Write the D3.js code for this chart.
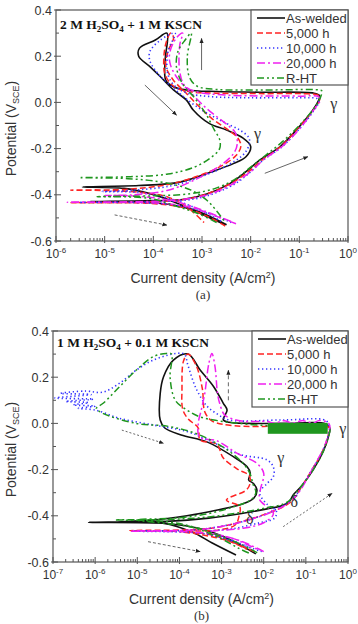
<!DOCTYPE html>
<meta charset="utf-8">
<style>
  body { margin: 0; background: #fff; }
  svg text { font-family: 'Liberation Sans', Arial, sans-serif; fill: #333; }
  .serif { font-family: 'Liberation Serif', 'Times New Roman', serif !important; }
</style>
<svg width="358" height="624"></svg>
<script src="https://cdnjs.cloudflare.com/ajax/libs/d3/7.8.5/d3.min.js"></script>
<script>

// ---- data: [current density (A/cm2), potential (V_SCE)] ----
var seriesNames = ["As-welded", "5,000 h", "10,000 h", "20,000 h", "R-HT"];

// panel (a) 2 M H2SO4 + 1 M KSCN
var aAsWelded = [[3.2e-3,-0.530],[1.5e-3,-0.495],[6e-4,-0.462],[2.2e-4,-0.442],[6e-5,-0.432],[5e-6,-0.429],[6e-5,-0.426],[4e-4,-0.42],[1.3e-3,-0.395],[3.5e-3,-0.355],[8e-3,-0.30],[1.55e-2,-0.249],[4e-2,-0.192],[0.1,-0.105],[0.19,-0.033],[0.25,0.01],[0.26,0.03],[0.2,0.04],[1.5e-2,0.044],[2e-3,0.047],[4.8e-4,0.054],[2.6e-4,0.068],[1.8e-4,0.097],[1.75e-4,0.184],[1.9e-4,0.30],
  [1.1e-4,0.27],[5.2e-5,0.235],[5e-5,0.2],[8.5e-5,0.155],[1.4e-4,0.111],[2.6e-4,0.054],[4.8e-4,0.01],[6.6e-4,-0.033],[1.4e-3,-0.091],[3.2e-3,-0.12],[7e-3,-0.155],[1e-2,-0.19],[8e-3,-0.235],[4.4e-3,-0.265],[1.6e-3,-0.30],[3.5e-4,-0.345],[5e-5,-0.36],[3.5e-6,-0.366],[2.5e-5,-0.372],[8.5e-5,-0.395],[2.6e-4,-0.43],[9e-4,-0.48],[3e-3,-0.53]];
var a5000 = [[3e-3,-0.535],[1.2e-3,-0.49],[3.5e-4,-0.452],[8e-5,-0.437],[2e-6,-0.434],[8e-5,-0.431],[5e-4,-0.418],[1.5e-3,-0.39],[4e-3,-0.35],[9e-3,-0.30],[1.7e-2,-0.25],[4.2e-2,-0.19],[0.1,-0.105],[0.2,-0.03],[0.26,0.01],[0.25,0.03],[0.15,0.037],[1.5e-2,0.038],[2e-3,0.04],[5e-4,0.048],[2.6e-4,0.07],[1.75e-4,0.12],[1.65e-4,0.2],[1.9e-4,0.27],[2.3e-4,0.30],
  [2.6e-4,0.28],[2e-4,0.22],[1.8e-4,0.16],[2.5e-4,0.1],[4.5e-4,0.045],[8e-4,-0.01],[1.6e-3,-0.07],[3.5e-3,-0.12],[5.5e-3,-0.155],[6.3e-3,-0.19],[5e-3,-0.23],[2.5e-3,-0.275],[8e-4,-0.32],[2e-4,-0.355],[3e-5,-0.376],[2e-6,-0.38],[3e-5,-0.385],[2e-4,-0.41],[5e-4,-0.455],[1.1e-3,-0.52]];
var a10000 = [[4e-3,-0.52],[1.6e-3,-0.485],[5e-4,-0.455],[1.2e-4,-0.437],[3e-6,-0.433],[1.2e-4,-0.43],[7e-4,-0.418],[2e-3,-0.39],[5e-3,-0.35],[1e-2,-0.30],[1.8e-2,-0.25],[4.5e-2,-0.19],[0.11,-0.105],[0.2,-0.035],[0.25,0.0],[0.24,0.015],[0.1,0.02],[1e-2,0.02],[1.5e-3,0.025],[5e-4,0.04],[2.8e-4,0.07],[2e-4,0.12],[2e-4,0.22],[2.8e-4,0.30],
  [1.4e-4,0.27],[8.5e-5,0.22],[8.5e-5,0.18],[1.3e-4,0.12],[3e-4,0.05],[8e-4,-0.02],[2.5e-3,-0.08],[6e-3,-0.12],[9e-3,-0.15],[9.5e-3,-0.175],[7.5e-3,-0.22],[3.5e-3,-0.27],[1e-3,-0.32],[2.5e-4,-0.36],[4e-5,-0.38],[9e-6,-0.386],[5e-5,-0.39],[2.5e-4,-0.42],[1e-3,-0.47],[2.5e-3,-0.515]];
var a20000 = [[5e-3,-0.525],[1.8e-3,-0.49],[6e-4,-0.455],[1.5e-4,-0.437],[1.7e-6,-0.432],[1e-4,-0.428],[6e-4,-0.415],[1.8e-3,-0.39],[4.5e-3,-0.35],[1e-2,-0.30],[1.8e-2,-0.25],[4.5e-2,-0.19],[0.11,-0.105],[0.2,-0.03],[0.27,0.01],[0.25,0.025],[0.1,0.027],[1.5e-2,0.028],[3e-3,0.032],[8e-4,0.045],[4.5e-4,0.07],[3.5e-4,0.13],[3.5e-4,0.25],[4e-4,0.30],
  [3e-4,0.28],[2.2e-4,0.22],[2.2e-4,0.17],[3e-4,0.11],[6e-4,0.04],[1.3e-3,-0.03],[3e-3,-0.09],[4.8e-3,-0.13],[5.3e-3,-0.18],[4.5e-3,-0.22],[2.5e-3,-0.27],[8e-4,-0.33],[2e-4,-0.38],[4e-5,-0.40],[1e-5,-0.403],[5e-5,-0.406],[3e-4,-0.43],[1.5e-3,-0.48],[4.5e-3,-0.52]];
var aRHT = [[2e-3,-0.52],[8e-4,-0.48],[3e-4,-0.45],[8e-5,-0.415],[7e-6,-0.408],[8e-5,-0.405],[6e-4,-0.395],[2e-3,-0.37],[5e-3,-0.33],[1e-2,-0.28],[2e-2,-0.23],[4.5e-2,-0.17],[0.11,-0.09],[0.21,-0.02],[0.27,0.02],[0.29,0.05],[0.25,0.054],[2e-2,0.054],[2e-3,0.056],[8e-4,0.07],[5.5e-4,0.11],[5e-4,0.2],[6e-4,0.30],
  [4.5e-4,0.27],[3.2e-4,0.22],[3e-4,0.15],[4e-4,0.08],[7e-4,0.02],[1.2e-3,-0.05],[1.8e-3,-0.12],[2.3e-3,-0.16],[2.3e-3,-0.20],[1.5e-3,-0.24],[7e-4,-0.28],[2e-4,-0.31],[3e-5,-0.322],[3e-6,-0.326],[3e-5,-0.33],[2e-4,-0.35],[6e-4,-0.38],[1.2e-3,-0.42],[2e-3,-0.47],[3e-3,-0.52]];

// panel (b) 1 M H2SO4 + 0.1 M KSCN
var bAsWelded = [[6.5e-3,-0.565],[3e-3,-0.53],[1.1e-3,-0.49],[3e-4,-0.455],[5e-5,-0.433],[7e-7,-0.428],[5e-5,-0.424],[5e-4,-0.41],[3e-3,-0.39],[1.2e-2,-0.37],[2.8e-2,-0.355],[4e-2,-0.34],[5e-2,-0.31],[8e-2,-0.27],[0.15,-0.2],[0.26,-0.12],[0.34,-0.06],[0.37,-0.02],[0.3,-0.002],[3e-2,0.0],[4e-3,0.0],[1.5e-3,0.005],[1.1e-3,0.015],[1.35e-3,0.058],[1.1e-3,0.087],[6.5e-4,0.159],[3.1e-4,0.231],[1.6e-4,0.30],
  [7.2e-5,0.274],[4.2e-5,0.202],[3.5e-5,0.13],[3.5e-5,0.015],[4.5e-5,-0.02],[1.1e-4,-0.05],[4.5e-4,-0.08],[1.9e-3,-0.144],[4e-3,-0.187],[4.8e-3,-0.216],[4.4e-3,-0.245],[5.7e-3,-0.26],[6.9e-3,-0.288],[5.8e-3,-0.324],[3e-3,-0.35],[8e-4,-0.375],[1.5e-4,-0.40],[2e-5,-0.42],[3e-6,-0.427],[4e-5,-0.432],[2e-4,-0.47],[6e-4,-0.518],[2.2e-3,-0.57]];
var b5000 = [[6e-3,-0.555],[2.5e-3,-0.525],[8e-4,-0.49],[2e-4,-0.47],[6.6e-6,-0.464],[2e-4,-0.46],[8e-4,-0.45],[3e-3,-0.425],[1e-2,-0.395],[3e-2,-0.36],[5e-2,-0.33],[7e-2,-0.29],[0.13,-0.21],[0.25,-0.12],[0.33,-0.06],[0.36,-0.02],[0.3,-0.01],[3e-2,-0.012],[2e-3,-0.01],[6e-4,0.01],[4e-4,0.05],[3.5e-4,0.15],[2.5e-4,0.25],[1.6e-4,0.30],
  [1.25e-4,0.27],[1.15e-4,0.15],[1.2e-4,0.06],[1.6e-4,0.02],[2.8e-4,-0.02],[3.1e-4,-0.072],[7.7e-4,-0.09],[1.1e-3,-0.15],[2.5e-3,-0.2],[4.5e-3,-0.225],[4.8e-3,-0.255],[3.9e-3,-0.288],[1.3e-3,-0.332],[2.7e-3,-0.36],[2.6e-3,-0.40],[2.1e-3,-0.44],[8e-4,-0.462],[1e-4,-0.468],[3e-4,-0.48],[1.5e-3,-0.51],[4e-3,-0.545]];
var b10000 = [[9e-3,-0.555],[3e-3,-0.525],[1e-3,-0.495],[3e-4,-0.475],[8e-6,-0.466],[2e-4,-0.462],[1e-3,-0.445],[4e-3,-0.42],[1.2e-2,-0.39],[3e-2,-0.355],[5e-2,-0.325],[7e-2,-0.29],[0.13,-0.21],[0.25,-0.12],[0.33,-0.06],[0.36,-0.02],[0.3,0.012],[3e-2,0.015],[1.5e-3,0.015],[8e-4,0.04],[4.5e-4,0.075],[2.5e-4,0.15],[1.6e-4,0.25],[1.3e-4,0.30],
  [8.5e-5,0.303],[2.4e-5,0.274],[9.5e-6,0.231],[3.8e-6,0.174],[1.5e-6,0.135],[6e-7,0.14],[1.5e-7,0.13],[8e-7,0.125],[1.1e-7,0.11],[9e-7,0.105],[2e-7,0.095],[7e-7,0.09],[3e-7,0.08],[1e-6,0.075],[4e-7,0.065],[1e-6,0.058],[3.8e-6,0.022],[2.4e-5,-0.007],[1.5e-4,-0.035],[4.5e-4,-0.07],[2.8e-3,-0.135],[1.2e-2,-0.158],[1.7e-2,-0.19],[1.7e-2,-0.23],[1.2e-2,-0.26],[8e-3,-0.3],[1.2e-2,-0.35],[2e-2,-0.38],[1.8e-2,-0.41],[8e-3,-0.43],[2e-3,-0.455],[5e-4,-0.47],[1.5e-3,-0.5],[5e-3,-0.54]];
var b20000 = [[1e-2,-0.555],[4e-3,-0.52],[1.3e-3,-0.49],[3e-4,-0.472],[6.8e-6,-0.466],[3e-4,-0.46],[1.5e-3,-0.44],[5e-3,-0.415],[1.5e-2,-0.385],[3.5e-2,-0.35],[5.5e-2,-0.32],[8e-2,-0.28],[0.14,-0.2],[0.26,-0.11],[0.34,-0.05],[0.37,-0.01],[0.33,0.005],[0.2,0.012],[0.15,0.001],[0.08,0.012],[0.05,0.001],[3e-2,0.012],[1.8e-2,0.001],[1.2e-2,0.008],[3e-3,0.01],[1.3e-3,0.03],[1.1e-3,0.044],[9e-4,0.087],[8e-4,0.13],[7e-4,0.245],[5.9e-4,0.303],
  [5e-4,0.26],[4e-4,0.13],[3.7e-4,0.1],[3.3e-4,0.058],[2.8e-4,0.0],[3e-4,-0.06],[7.7e-4,-0.075],[2.3e-3,-0.129],[6.9e-3,-0.173],[1e-2,-0.216],[8.3e-3,-0.288],[8e-3,-0.33],[1.7e-2,-0.39],[1e-2,-0.43],[3e-3,-0.455],[5e-4,-0.47],[2e-3,-0.5],[8e-3,-0.55]];
var bRHT = [[7e-3,-0.56],[3e-3,-0.525],[1e-3,-0.49],[3e-4,-0.455],[5e-5,-0.425],[3e-6,-0.418],[5e-5,-0.416],[5e-4,-0.405],[3e-3,-0.385],[1.2e-2,-0.365],[2.8e-2,-0.35],[4e-2,-0.335],[5.5e-2,-0.305],[8e-2,-0.27],[0.15,-0.2],[0.26,-0.12],[0.34,-0.06],[0.37,-0.025],[0.33,-0.02],[1.3e-2,-0.01],[2.5e-3,0.0],[8e-4,0.012],[3e-4,0.029],[1.5e-4,0.058],[8e-5,0.1],[6e-5,0.2],[6.5e-5,0.3],
  [4.9e-5,0.303],[2.4e-5,0.289],[9.5e-6,0.231],[3.8e-6,0.159],[1.55e-6,0.087],[1.07e-6,0.065],[1.5e-6,0.044],[9.5e-6,0.0],[5.9e-5,-0.014],[3e-4,-0.05],[1.5e-3,-0.12],[3.5e-3,-0.18],[4.8e-3,-0.22],[5.5e-3,-0.26],[6.5e-3,-0.3],[5e-3,-0.33],[2e-3,-0.36],[5e-4,-0.39],[8e-5,-0.41],[1e-5,-0.418],[2e-4,-0.45],[1e-3,-0.5],[2.5e-3,-0.54],[5e-3,-0.565]];
// R-HT noisy passive band in (b): [I from, I to, E top, E bottom]
var bRHTBand = [1.25e-2, 0.33, 0.002, -0.045];

// annotation arrows [[I,E] from, [I,E] to]
var arrowsA = [[[6.7e-5,0.075],[3e-4,-0.055]], [[9.8e-4,0.14],[9.8e-4,0.277]], [[1.95e-2,-0.307],[0.15,-0.235]], [[1.6e-5,-0.487],[1.9e-4,-0.531]]];
var arrowsB = [[[4.3e-6,-0.029],[4.2e-5,-0.086]], [[1.45e-3,0.1],[1.45e-3,0.23]], [[2.9e-2,-0.447],[0.42,-0.303]], [[1.8e-5,-0.512],[3.1e-4,-0.555]]];
var arrowDashA = [null, null, null, "3,2"];
var arrowDashB = ["2,2", "4,3", "2,2", "3,2"];

// phase labels [text, I, E]
var marksA = [["γ", 1.17e-2, -0.158], ["γ", 0.43, -0.029]];
var marksB = [["γ", 2.1e-2, -0.171], ["γ", 0.62, -0.046], ["δ", 4.3e-2, -0.362], ["δ", 3.8e-3, -0.435]];

var yTicks = [-0.6, -0.4, -0.2, 0.0, 0.2, 0.4];
var yMinor = [-0.5, -0.3, -0.1, 0.1, 0.3];

var styles = [
  {color: "#111", dash: null, w: 1.6},
  {color: "#ff2323", dash: "6,3", w: 1.5},
  {color: "#3434ff", dash: "1.3,2.7", w: 1.6},
  {color: "#f020f0", dash: "8,3,2,3", w: 1.5},
  {color: "#1f961f", dash: "7,3,2,3,2,3", w: 1.5}
];

var panels = [
  {id: "a", left: 56, right: 348, top: 10, bottom: 241, xMin: 1e-6,
   title: [["2 M H",0],["2",1],["SO",0],["4",1],[" + 1 M KSCN",0]], titleY: 29,
   series: [aAsWelded, a5000, a10000, a20000, aRHT], band: null,
   arrows: arrowsA, arrowDash: arrowDashA, marks: marksA,
   legend: {x: 251, y: 10, w: 97, h: 75}, caption: "(a)", capY: 299},
  {id: "b", left: 53, right: 348, top: 331, bottom: 562, xMin: 1e-7,
   title: [["1 M H",0],["2",1],["SO",0],["4",1],[" + 0.1 M KSCN",0]], titleY: 347,
   series: [bAsWelded, b5000, b10000, b20000, bRHT], band: bRHTBand,
   arrows: arrowsB, arrowDash: arrowDashB, marks: marksB,
   legend: {x: 252, y: 331, w: 96, h: 76}, caption: "(b)", capY: 620}
];

var svg = d3.select("svg");

svg.append("defs").append("marker")
    .attr("id", "head")
    .attr("viewBox", "0 0 10 10")
    .attr("refX", 9).attr("refY", 5)
    .attr("markerWidth", 5).attr("markerHeight", 5)
    .attr("orient", "auto")
  .append("path")
    .attr("d", "M0,1 L10,5 L0,9 Z")
    .attr("fill", "#222");

panels.forEach(drawPanel);

function isDecade(v) {
  var l = Math.log10(v);
  return Math.abs(l - Math.round(l)) < 1e-6;
}

function drawPanel(p) {
  var x = d3.scaleLog().domain([p.xMin, 1]).range([p.left, p.right]);
  var y = d3.scaleLinear().domain([-0.6, 0.4]).range([p.bottom, p.top]);
  var g = svg.append("g");

  g.append("clipPath").attr("id", "clip-" + p.id)
    .append("rect")
    .attr("x", p.left).attr("y", p.top)
    .attr("width", p.right - p.left).attr("height", p.bottom - p.top);

  var plot = g.append("g").attr("clip-path", "url(#clip-" + p.id + ")");

  var line = d3.line()
      .x(function(d) { return x(d[0]); })
      .y(function(d) { return y(d[1]); })
      .curve(d3.curveCatmullRom.alpha(0.5));

  p.series.forEach(function(s, i) {
    plot.append("path")
      .datum(s)
      .attr("d", line)
      .attr("fill", "none")
      .attr("stroke", styles[i].color)
      .attr("stroke-width", styles[i].w)
      .attr("stroke-dasharray", styles[i].dash)
      .attr("stroke-linejoin", "round");
  });

  if (p.band) {
    plot.append("rect")
      .attr("x", x(p.band[0])).attr("y", y(p.band[2]))
      .attr("width", x(p.band[1]) - x(p.band[0]))
      .attr("height", y(p.band[3]) - y(p.band[2]))
      .attr("fill", styles[4].color);
  }

  // arrows
  p.arrows.forEach(function(a, i) {
    plot.append("line")
      .attr("x1", x(a[0][0])).attr("y1", y(a[0][1]))
      .attr("x2", x(a[1][0])).attr("y2", y(a[1][1]))
      .attr("stroke", "#666")
      .attr("stroke-width", 1)
      .attr("stroke-dasharray", p.arrowDash[i])
      .attr("marker-end", "url(#head)");
  });

  // phase labels
  p.marks.forEach(function(m) {
    g.append("text")
      .attr("class", "serif")
      .attr("x", x(m[1])).attr("y", y(m[2]))
      .style("font-size", "16px")
      .text(m[0]);
  });

  // frame
  g.append("rect")
    .attr("x", p.left).attr("y", p.top)
    .attr("width", p.right - p.left).attr("height", p.bottom - p.top)
    .attr("fill", "none").attr("stroke", "#555").attr("stroke-width", 1.2);

  // x ticks
  var xt = x.ticks();
  xt.forEach(function(v) {
    var major = isDecade(v);
    g.append("line")
      .attr("x1", x(v)).attr("x2", x(v))
      .attr("y1", p.bottom + (major ? 2 : 0)).attr("y2", p.bottom - (major ? 5 : 3))
      .attr("stroke", "#555").attr("stroke-width", 1);
    if (major) {
      var t = g.append("text")
        .attr("x", x(v)).attr("y", p.bottom + 17)
        .attr("text-anchor", "middle")
        .style("font-size", "12px");
      t.append("tspan").text("10");
      t.append("tspan").attr("dy", -5).style("font-size", "8px")
        .text(Math.round(Math.log10(v)) === 0 ? "0" : String(Math.round(Math.log10(v))));
    }
  });

  // y ticks
  yTicks.forEach(function(v) {
    g.append("line")
      .attr("x1", p.left - 2).attr("x2", p.left + 5)
      .attr("y1", y(v)).attr("y2", y(v))
      .attr("stroke", "#555").attr("stroke-width", 1);
    g.append("text")
      .attr("x", p.left - 4).attr("y", y(v) + 4.5)
      .attr("text-anchor", "end")
      .style("font-size", "12.5px")
      .text(v.toFixed(1));
  });
  yMinor.forEach(function(v) {
    g.append("line")
      .attr("x1", p.left).attr("x2", p.left + 3)
      .attr("y1", y(v)).attr("y2", y(v))
      .attr("stroke", "#555").attr("stroke-width", 1);
  });

  // axis titles
  var xt2 = g.append("text")
    .attr("x", (p.left + p.right) / 2 + 1).attr("y", p.bottom + 42)
    .attr("text-anchor", "middle")
    .style("font-size", "14px");
  xt2.append("tspan").text("Current density (A/cm");
  xt2.append("tspan").attr("dy", -5).style("font-size", "9px").text("2");
  xt2.append("tspan").attr("dy", 5).text(")");

  var yt = g.append("text")
    .attr("transform", "translate(16," + ((p.top + p.bottom) / 2 + 3) + ") rotate(-90)")
    .attr("text-anchor", "middle")
    .style("font-size", "14px");
  yt.append("tspan").text("Potential (V");
  yt.append("tspan").attr("dy", 3).style("font-size", "9px").text("SCE");
  yt.append("tspan").attr("dy", -3).text(")");

  // title
  var tt = g.append("text")
    .attr("class", "serif")
    .attr("x", p.left + 4).attr("y", p.titleY)
    .style("font-size", "13.5px").style("font-weight", "bold").style("fill", "#111");
  p.title.forEach(function(part, i) {
    var prev = i > 0 ? p.title[i - 1][1] : 0;
    var dy = part[1] ? 3 : (prev ? -3 : 0);
    tt.append("tspan").attr("dy", dy)
      .style("font-size", part[1] ? "9px" : "13.5px")
      .text(part[0]);
  });

  // legend
  var L = p.legend;
  var lg = g.append("g");
  lg.append("rect")
    .attr("x", L.x).attr("y", L.y).attr("width", L.w).attr("height", L.h)
    .attr("fill", "#fff").attr("stroke", "#555").attr("stroke-width", 1.2);
  seriesNames.forEach(function(name, i) {
    var cy = L.y + 8 + i * 15;
    lg.append("line")
      .attr("x1", L.x + 6).attr("x2", L.x + 34)
      .attr("y1", cy).attr("y2", cy)
      .attr("stroke", styles[i].color)
      .attr("stroke-width", styles[i].w)
      .attr("stroke-dasharray", styles[i].dash);
    lg.append("text")
      .attr("x", L.x + 35).attr("y", cy + 4.5)
      .style("font-size", "13px")
      .text(name);
  });

  // caption
  g.append("text")
    .attr("class", "serif")
    .attr("x", (p.left + p.right) / 2 + 1).attr("y", p.capY)
    .attr("text-anchor", "middle")
    .style("font-size", "13px")
    .text(p.caption);
}
</script>
